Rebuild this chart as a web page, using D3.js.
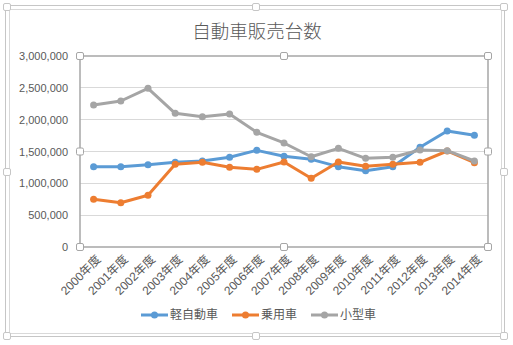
<!DOCTYPE html>
<html>
<head>
<meta charset="utf-8">
<script src="https://cdn.jsdelivr.net/npm/d3@7"></script>
<style>
html,body{margin:0;padding:0;background:#fff;}
svg{display:block;}
</style>
</head>
<body>
<svg id="chart" width="513" height="345"></svg>
<script>
const title = "自動車販売台数";
const categories = ["2000年度","2001年度","2002年度","2003年度","2004年度","2005年度","2006年度","2007年度","2008年度","2009年度","2010年度","2011年度","2012年度","2013年度","2014年度"];
const seriesNames = ["軽自動車","乗用車","小型車"];
const keiValues   = [1262000,1262000,1293000,1330000,1351000,1409000,1518000,1424000,1377000,1262000,1199000,1262000,1566000,1822000,1754000];
const jouyouValues= [749000,696000,812000,1299000,1330000,1252000,1220000,1335000,1079000,1335000,1267000,1299000,1330000,1508000,1324000];
const kogataValues= [2230000,2293000,2492000,2100000,2047000,2089000,1801000,1634000,1418000,1550000,1393000,1409000,1524000,1513000,1351000];
const yTicks = [0,500000,1000000,1500000,2000000,2500000,3000000];
const colors = ["#5B9BD5","#ED7D31","#A5A5A5"];

const series = [keiValues, jouyouValues, kogataValues];
const svg = d3.select("#chart");
const plot = {l:80, r:488, t:56, b:247};

// outer selection frame
svg.append("rect").attr("x",5.5).attr("y",5.5).attr("width",499).attr("height",331)
  .attr("fill","none").attr("stroke","#c6c6c6");
svg.append("rect").attr("x",9.5).attr("y",9.5).attr("width",492).attr("height",324)
  .attr("fill","#fff").attr("stroke","#d9d9d9");

const x = d3.scaleBand().domain(categories).range([plot.l, plot.r]);
const y = d3.scaleLinear().domain([0,3000000]).range([plot.b, plot.t]);
const cx = d => x(d) + x.bandwidth()/2;

// title
svg.append("text").attr("x",257).attr("y",38).attr("text-anchor","middle")
  .attr("font-family","'Noto Sans CJK JP'").attr("font-weight",300).attr("font-size",18.5)
  .attr("fill","#595959").text(title);

// gridlines
svg.append("g").selectAll("line").data(yTicks.filter(v=>v>0 && v<3000000)).join("line")
  .attr("x1",plot.l).attr("x2",plot.r).attr("y1",d=>y(d)).attr("y2",d=>y(d))
  .attr("stroke","#d9d9d9").attr("stroke-width",1).attr("shape-rendering","crispEdges");

// y axis labels
const yAxis = d3.axisLeft(y).tickValues(yTicks).tickSize(0).tickPadding(12)
  .tickFormat(d3.format(","));
const gy = svg.append("g").attr("transform",`translate(${plot.l},0)`).call(yAxis);
gy.select(".domain").remove();
gy.selectAll("text").attr("font-family","'Liberation Sans','Noto Sans CJK JP'").attr("font-size",11).attr("fill","#595959");

// x axis labels
const xAxis = d3.axisBottom(x).tickSize(0).tickPadding(0);
const gx = svg.append("g").attr("transform",`translate(0,${plot.b})`).call(xAxis);
gx.select(".domain").remove();
gx.selectAll("text")
  .attr("font-family","'Liberation Sans','Noto Sans CJK JP'").attr("font-size",12).attr("fill","#595959")
  .attr("text-anchor","end").attr("dy","0.35em").attr("y",0)
  .attr("transform","translate(5,10) rotate(-45)");

// plot area border (selected)
svg.append("rect").attr("x",plot.l).attr("y",plot.t).attr("width",plot.r-plot.l).attr("height",plot.b-plot.t)
  .attr("fill","none").attr("stroke","#a6a6a6").attr("stroke-width",1.5);

// lines
const line = d3.line().x((d,i)=>cx(categories[i])).y(d=>y(d));
series.forEach((vals,si)=>{
  svg.append("path").datum(vals).attr("d",line).attr("fill","none")
    .attr("stroke",colors[si]).attr("stroke-width",3).attr("stroke-linejoin","round").attr("stroke-linecap","round");
  svg.append("g").selectAll("circle").data(vals).join("circle")
    .attr("cx",(d,i)=>cx(categories[i])).attr("cy",d=>y(d)).attr("r",3.5).attr("fill",colors[si]);
});

// handles on plot area
const ph = [[plot.l,plot.t],[(plot.l+plot.r)/2,plot.t],[plot.r,plot.t],[plot.l,(plot.t+plot.b)/2],[plot.r,(plot.t+plot.b)/2],[plot.l,plot.b],[(plot.l+plot.r)/2,plot.b],[plot.r,plot.b]];
svg.append("g").selectAll("rect").data(ph).join("rect")
  .attr("x",d=>d[0]-3.5).attr("y",d=>d[1]-3.5).attr("width",7).attr("height",7).attr("rx",1.5)
  .attr("fill","#fff").attr("stroke","#a6a6a6");

// outer handles
const oh = [[7,7],[256,7],[504,7],[7,172],[504,172],[7,336],[256,336],[504,336]];
svg.append("g").selectAll("rect").data(oh).join("rect")
  .attr("x",d=>d[0]-3.5).attr("y",d=>d[1]-3.5).attr("width",7).attr("height",7).attr("rx",1.5)
  .attr("fill","#fff").attr("stroke","#c6c6c6");

// legend
const legendX = [141, 232, 311];
const lg = svg.append("g");
seriesNames.forEach((n,i)=>{
  const g = lg.append("g").attr("transform",`translate(${legendX[i]},315)`);
  g.append("line").attr("x1",0).attr("x2",27).attr("y1",0).attr("y2",0).attr("stroke",colors[i]).attr("stroke-width",3);
  g.append("circle").attr("cx",13.5).attr("cy",0).attr("r",3.5).attr("fill",colors[i]);
  g.append("text").attr("x",29).attr("y",0).attr("dy","0.35em")
    .attr("font-family","'Noto Sans CJK JP'").attr("font-size",12).attr("fill","#595959").text(n);
});
</script>
</body>
</html>
